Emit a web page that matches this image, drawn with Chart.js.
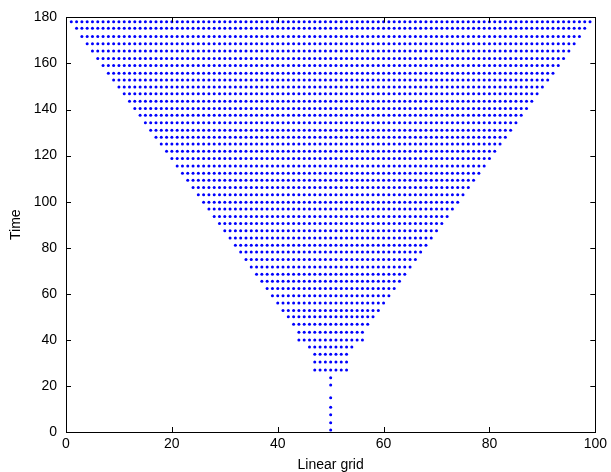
<!DOCTYPE html>
<html>
<head>
<meta charset="utf-8">
<script src="https://cdn.jsdelivr.net/npm/chart.js@4.4.1/dist/chart.umd.min.js"></script>
<style>
  html, body { margin: 0; padding: 0; background: #ffffff; }
  #wrap { width: 611px; height: 472px; position: relative; }
</style>
</head>
<body>
<div id="wrap"><canvas id="c" width="611" height="472"></canvas></div>
<script>
// Time level of each row of active grid nodes (top row first)
const rowTime = [
  178.1, 175.3, 171.7, 168.6, 165.4, 162.2, 159.1, 155.8, 152.8, 149.8,
  146.8, 143.6, 140.5, 137.5, 134.3, 131.0, 128.0, 125.0, 121.9, 118.7,
  115.5, 112.3, 109.3, 106.1, 103.0, 99.8, 96.8, 93.6, 90.5, 87.4,
  84.2, 81.1, 78.1, 74.9, 71.6, 68.5, 65.5, 62.3, 59.1, 56.0,
  52.8, 50.0, 46.8, 43.3, 39.9, 36.9, 33.8, 30.4, 26.9, 23.5,
  20.4, 14.9, 10.7, 7.5, 4.0, 0.9
];
// First active grid node in each row
const rowLeft = [
  1, 2, 3, 4, 5, 6, 7, 8, 9, 10,
  11, 12, 13, 14, 15, 16, 17, 18, 19, 20,
  21, 22, 23, 24, 25, 26, 27, 28, 29, 30,
  31, 32, 33, 34, 35, 36, 37, 38, 39, 40,
  41, 42, 43, 44, 44, 46, 47, 47, 47, 50,
  50, 50, 50, 50, 50, 50
];
// Last active grid node in each row
const rowRight = [
  99, 98, 97, 96, 95, 94, 93, 92, 91, 90,
  89, 88, 87, 86, 85, 84, 83, 82, 81, 80,
  79, 78, 77, 76, 75, 74, 73, 72, 71, 70,
  69, 68, 67, 66, 65, 64, 63, 62, 61, 60,
  59, 58, 57, 56, 56, 54, 53, 53, 53, 50,
  50, 50, 50, 50, 50, 50
];
const xTicks = [0, 20, 40, 60, 80, 100];
const yTicks = [0, 20, 40, 60, 80, 100, 120, 140, 160, 180];

// Every grid node between the row's first and last active node
const points = [];
rowTime.forEach((t, i) => {
  for (let g = rowLeft[i]; g <= rowRight[i]; g++) points.push({ x: g, y: t });
});

// Box around the axes with inward tick marks on all four sides
const boxTicks = {
  id: 'boxTicks',
  afterDatasetsDraw(chart) {
    const { ctx, chartArea: a, scales: { x, y } } = chart;
    const len = 5;
    ctx.save();
    ctx.strokeStyle = '#000000';
    ctx.lineWidth = 1;
    ctx.beginPath();
    xTicks.forEach(v => {
      const px = Math.round(x.getPixelForValue(v)) + 0.5;
      ctx.moveTo(px, a.bottom); ctx.lineTo(px, a.bottom - len);
      ctx.moveTo(px, a.top); ctx.lineTo(px, a.top + len);
    });
    yTicks.forEach(v => {
      const py = Math.round(y.getPixelForValue(v)) + 0.5;
      ctx.moveTo(a.left, py); ctx.lineTo(a.left + len, py);
      ctx.moveTo(a.right, py); ctx.lineTo(a.right - len, py);
    });
    ctx.stroke();
    ctx.strokeRect(Math.round(a.left) + 0.5, Math.round(a.top) + 0.5,
                   Math.round(a.right - a.left), Math.round(a.bottom - a.top));
    ctx.restore();
  }
};

const tickFont = { family: '"Liberation Sans", Arial, sans-serif', size: 14 };

new Chart(document.getElementById('c'), {
  type: 'scatter',
  data: {
    datasets: [{
      data: points,
      backgroundColor: '#0000ff',
      borderWidth: 0,
      pointRadius: 1.5,
      pointHoverRadius: 1.5
    }]
  },
  options: {
    responsive: false,
    animation: false,
    devicePixelRatio: 1,
    layout: { padding: { left: 0, top: 12, right: 13, bottom: 0 } },
    plugins: { legend: { display: false }, tooltip: { enabled: false } },
    scales: {
      x: {
        type: 'linear', min: 0, max: 100,
        afterBuildTicks: s => { s.ticks = xTicks.map(v => ({ value: v })); },
        afterFit: s => { s.height = 40; },
        grid: { display: false, drawTicks: false },
        border: { display: false },
        ticks: { color: '#000000', font: tickFont, padding: 4, maxRotation: 0 },
        title: { display: true, text: 'Linear grid', color: '#000000', font: tickFont, padding: { top: 0, bottom: -2 } }
      },
      y: {
        type: 'linear', min: 0, max: 180,
        afterBuildTicks: s => { s.ticks = yTicks.map(v => ({ value: v })); },
        afterFit: s => { s.width = 66; },
        grid: { display: false, drawTicks: false },
        border: { display: false },
        ticks: { color: '#000000', font: tickFont, padding: 9 },
        title: { display: true, text: 'Time', color: '#000000', font: tickFont, padding: { top: 8, bottom: 0 } }
      }
    }
  },
  plugins: [boxTicks]
});
</script>
</body>
</html>
